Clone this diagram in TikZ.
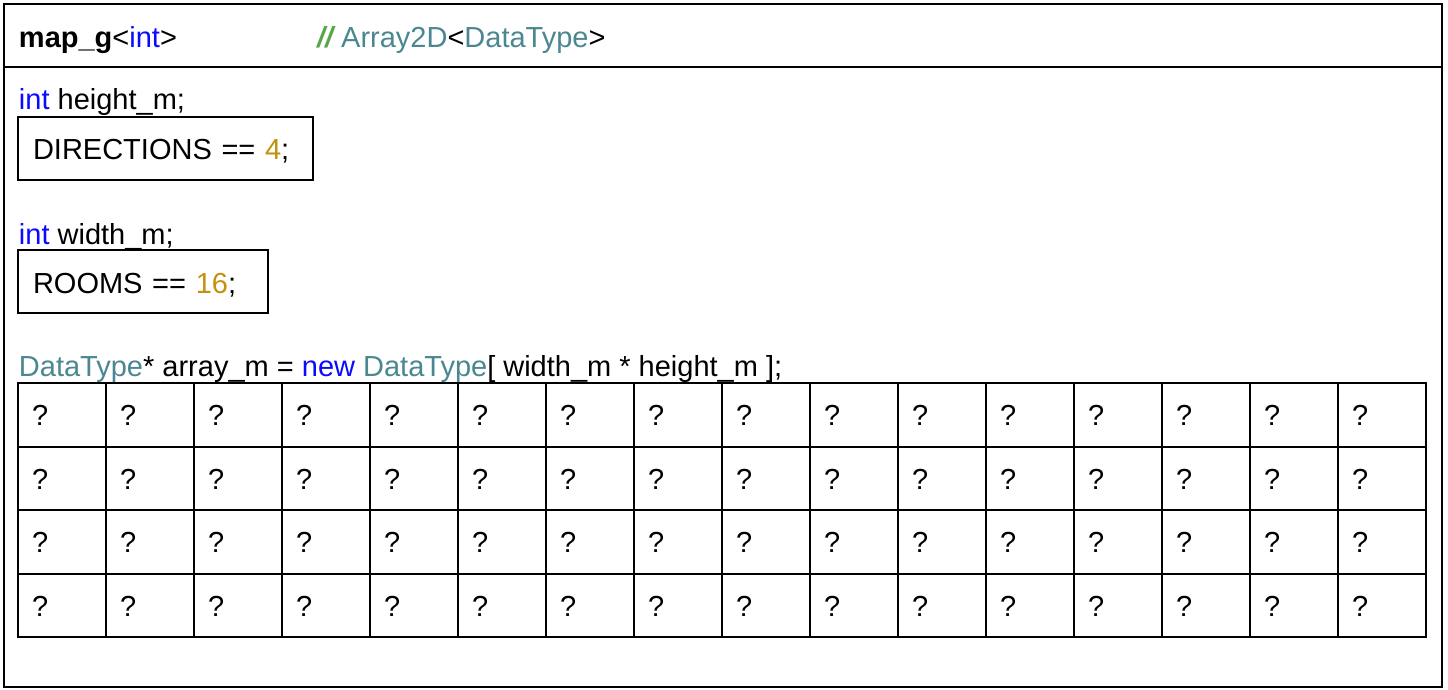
\documentclass[tikz,border=0pt]{standalone}
\usepackage{fontspec}
\setmainfont{Liberation Sans}
\definecolor{kwblue}{RGB}{10,10,255}
\definecolor{typeteal}{RGB}{75,135,145}
\definecolor{numgold}{RGB}{195,145,15}
\definecolor{cmtgreen}{RGB}{87,166,74}
\newcommand\codefont{\fontsize{29}{34}\selectfont}
\begin{document}
\begin{tikzpicture}[x=1pt,y=-1pt,line width=2pt,
  txt/.style={anchor=base west,inner sep=0pt,font=\codefont},
  valbox/.style={draw,anchor=north west,outer sep=0pt,inner xsep=15pt,inner ysep=0pt,
    minimum height=63pt,align=left,font=\codefont,text height=24pt,text depth=1pt},
  cell/.style={draw,anchor=north west,outer sep=0pt,inner xsep=14pt,inner ysep=0pt,
    minimum width=88pt,minimum height=63.5pt,text width=60pt,align=left,
    font=\codefont,text height=22pt,text depth=0pt}]
  \useasboundingbox (0,0) rectangle (1448,690);

  % outer frame and header separator
  \draw (4,4) rectangle (1442,687);
  \coordinate (divL) at (4,67);
  \coordinate (divR) at (1442,67);
  \draw (divL) -- (divR);

  % header
  \node[txt] (title) at (18,48) {\bfseries map\_g\mdseries<\textcolor{kwblue}{int}>};
  \node[txt] (comment) at (316,48) {\textcolor{cmtgreen}{\bfseries\itshape //} \textcolor{typeteal}{Array2D}<\textcolor{typeteal}{DataType}>};

  % members
  \node[txt] (hdecl) at (18,110) {\textcolor{kwblue}{int} height\_m;};
  \node[valbox,text width=265pt] (hval) at (18,117) {DIRECTIONS == \textcolor{numgold}{4};};

  \node[txt] (wdecl) at (18,244) {\textcolor{kwblue}{int} width\_m;};
  \node[valbox,text width=220pt] (wval) at (18,250) {ROOMS == \textcolor{numgold}{16};};

  % storage grid: 4 rows x 16 columns
  \foreach \r in {0,...,3}
    \foreach \c in {0,...,15}
      \node[cell] (cell-\r-\c) at ({18+88*\c},{383+63.5*\r}) {?};

  \node[txt] (adecl) at (18,376) {\textcolor{typeteal}{DataType}* array\_m = \textcolor{kwblue}{new} \textcolor{typeteal}{DataType}[ width\_m * height\_m ];};
\end{tikzpicture}
\end{document}
